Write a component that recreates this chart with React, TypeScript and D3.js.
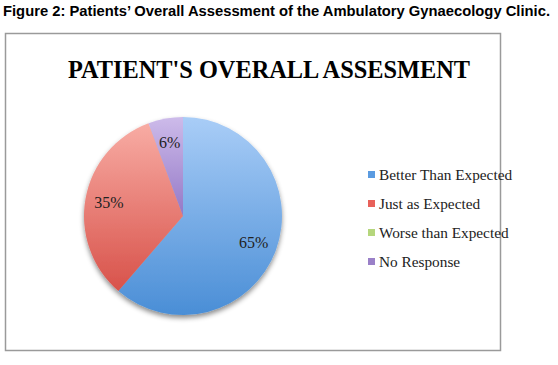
import { useEffect, useRef } from 'react';
import * as d3 from 'd3';

const categories = ['Better Than Expected', 'Just as Expected', 'Worse than Expected', 'No Response'];
const values = [65, 35, 0, 6];
const labels = ['65%', '35%', '', '6%'];
const swatchColors = ['#5b9be0', '#e8615a', '#b5d67c', '#9a80c8'];
const gradTop = ['#a9cdf7', '#f8aca4', '#d3e8a8', '#cdbbea'];
const gradBottom = ['#4a8ed6', '#d8524a', '#9cc25a', '#9478c6'];

export default function App() {
    const svgRef = useRef(null);

    useEffect(() => {
        const W = 558, H = 365;
        const svg = d3.select(svgRef.current)
            .attr('width', W)
            .attr('height', H);
        svg.selectAll('*').remove();

        const defs = svg.append('defs');
        categories.forEach((c, i) => {
            const g = defs.append('linearGradient')
                .attr('id', `grad${i}`)
                .attr('x1', 0).attr('y1', 0).attr('x2', 0).attr('y2', 1);
            g.append('stop').attr('offset', '0%').attr('stop-color', gradTop[i]);
            g.append('stop').attr('offset', '100%').attr('stop-color', gradBottom[i]);
        });
        const shadow = defs.append('filter').attr('id', 'pieShadow')
            .attr('x', '-20%').attr('y', '-20%').attr('width', '140%').attr('height', '140%');
        shadow.append('feDropShadow')
            .attr('dx', 0).attr('dy', 3).attr('stdDeviation', 2.5)
            .attr('flood-color', '#000').attr('flood-opacity', 0.45);

        // caption
        svg.append('text')
            .attr('x', 3).attr('y', 16)
            .attr('font-family', 'Liberation Sans, Arial, sans-serif')
            .attr('font-weight', 'bold')
            .attr('font-size', 14.2)
            .attr('textLength', 547)
            .attr('lengthAdjust', 'spacingAndGlyphs')
            .attr('fill', '#000')
            .text('Figure 2: Patients\u2019 Overall Assessment of the Ambulatory Gynaecology Clinic.');

        // chart frame
        svg.append('rect')
            .attr('x', 5.5).attr('y', 33.5)
            .attr('width', 495).attr('height', 317)
            .attr('fill', '#fff')
            .attr('stroke', '#9a9a9a')
            .attr('stroke-width', 1.5);

        svg.append('text')
            .attr('x', 269).attr('y', 78)
            .attr('text-anchor', 'middle')
            .attr('font-family', 'Liberation Serif, Times New Roman, serif')
            .attr('font-weight', 'bold')
            .attr('font-size', 26)
            .attr('textLength', 402)
            .attr('lengthAdjust', 'spacingAndGlyphs')
            .attr('fill', '#000')
            .text("PATIENT'S OVERALL ASSESMENT");

        const cx = 183, cy = 216, r = 99;
        const pie = d3.pie<number>().sort(null).value(d => d);
        const arcs = pie(values);
        const arc = d3.arc<d3.PieArcDatum<number>>().innerRadius(0).outerRadius(r);
        const labelArc = d3.arc<d3.PieArcDatum<number>>().innerRadius(r * 0.76).outerRadius(r * 0.76);

        const pg = svg.append('g')
            .attr('transform', `translate(${cx},${cy})`);

        pg.append('g')
            .attr('filter', 'url(#pieShadow)')
            .selectAll('path')
            .data(arcs.filter(a => a.value > 0))
            .enter()
            .append('path')
            .attr('d', arc)
            .attr('fill', d => `url(#grad${d.index})`);

        pg.selectAll('.lbl')
            .data(arcs.filter(a => a.value > 0))
            .enter()
            .append('text')
            .attr('class', 'lbl')
            .attr('transform', d => `translate(${labelArc.centroid(d)})`)
            .attr('text-anchor', 'middle')
            .attr('dy', '0.35em')
            .attr('font-family', 'Liberation Serif, serif')
            .attr('font-size', 16)
            .attr('fill', '#222')
            .text(d => labels[d.index]);

        // legend
        const lg = svg.append('g').attr('transform', 'translate(368,175)');
        const row = lg.selectAll('g')
            .data(categories)
            .enter()
            .append('g')
            .attr('transform', (d, i) => `translate(0,${i * 29})`);
        row.append('rect')
            .attr('x', 0).attr('y', -4)
            .attr('width', 7).attr('height', 7)
            .attr('fill', (d, i) => swatchColors[i]);
        row.append('text')
            .attr('x', 11).attr('y', 0)
            .attr('dy', '0.35em')
            .attr('font-family', 'Liberation Serif, serif')
            .attr('font-size', 15.3)
            .attr('fill', '#222')
            .text(d => d);
    }, []);

    return (
        <div style={{ position: 'absolute', left: 0, top: 0, width: 558, height: 365, background: '#fff' }}>
            <svg ref={svgRef} style={{ display: 'block' }}></svg>
        </div>
    );
}
